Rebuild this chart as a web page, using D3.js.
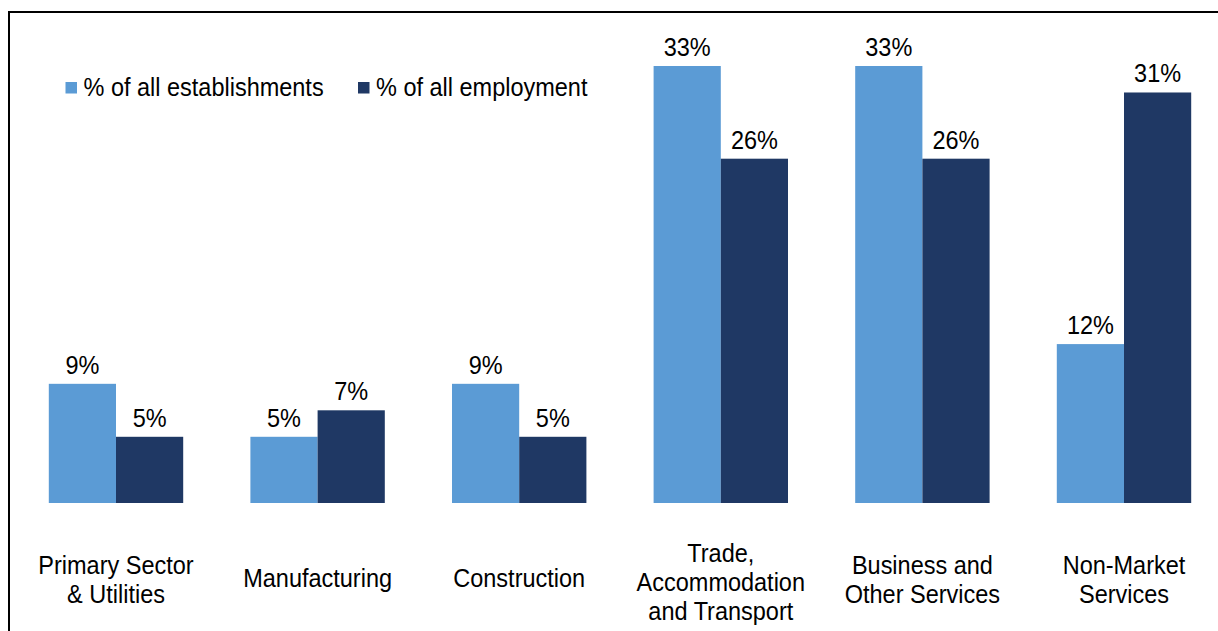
<!DOCTYPE html>
<html>
<head>
<meta charset="utf-8">
<script src="https://cdn.jsdelivr.net/npm/d3@7"></script>
<style>
  html, body { margin: 0; padding: 0; background: #fff; }
  svg { display: block; }
  text { font-family: "Liberation Sans", Arial, sans-serif; fill: #000; }
</style>
</head>
<body>
<svg id="chart" width="1218" height="631"></svg>
<script>
// Sector shares of establishments and employment
const categories = [
  ["Primary Sector", "& Utilities"],
  ["Manufacturing"],
  ["Construction"],
  ["Trade,", "Accommodation", "and Transport"],
  ["Business and", "Other Services"],
  ["Non-Market", "Services"]
];
const seriesNames = ["% of all establishments", "% of all employment"];
const establishments = [9, 5, 9, 33, 33, 12];
const employment = [5, 7, 5, 26, 26, 31];
const seriesColors = ["#5B9BD5", "#1F3864"];

const svg = d3.select("#chart");
const W = 1218, H = 631;
const fontSize = 23.5, vStretch = 1.08;

// Chart frame
svg.append("rect")
  .attr("x", 9).attr("y", 12)
  .attr("width", W + 20).attr("height", H + 20)
  .attr("fill", "none").attr("stroke", "#000").attr("stroke-width", 2);

const keys = categories.map((c, i) => i);
const x0 = d3.scaleBand().domain(keys).range([15.2, 1224.8])
  .paddingInner(1 / 3).paddingOuter(1 / 6);
const x1 = d3.scaleBand().domain([0, 1]).range([0, x0.bandwidth()]);
const y = d3.scaleLinear().domain([0, 35]).range([503, 503 - 35 * (437 / 33)]);

const seriesData = [establishments, employment];

function label(g, x, yb, str) {
  g.append("text")
    .attr("transform", `translate(${x},${yb}) scale(1,${vStretch})`)
    .attr("text-anchor", "middle")
    .style("font-size", fontSize + "px")
    .text(str);
}

const groups = svg.append("g").selectAll("g")
  .data(keys).join("g")
  .attr("transform", i => `translate(${x0(i)},0)`);

groups.each(function (i) {
  const g = d3.select(this);
  seriesData.forEach((vals, s) => {
    const v = vals[i];
    g.append("rect")
      .attr("x", x1(s)).attr("width", x1.bandwidth())
      .attr("y", y(v)).attr("height", y(0) - y(v))
      .attr("fill", seriesColors[s]);
    label(g, x1(s) + x1.bandwidth() / 2, y(v) - 10, v + "%");
  });
  // Category label, vertically centred under the group
  const lines = categories[i];
  const first = 587 - (lines.length - 1) * 12.75;
  lines.forEach((ln, k) => label(g, x0.bandwidth() / 2, first + k * 29, ln));
});

// Legend
const legendX = [65.5, 358];
seriesNames.forEach((name, s) => {
  svg.append("rect")
    .attr("x", legendX[s]).attr("y", 82)
    .attr("width", 11.5).attr("height", 11.5)
    .attr("fill", seriesColors[s]);
  svg.append("text")
    .attr("transform", `translate(${legendX[s] + 18},95.5) scale(1,${vStretch})`)
    .style("font-size", fontSize + "px")
    .text(name);
});
</script>
</body>
</html>
